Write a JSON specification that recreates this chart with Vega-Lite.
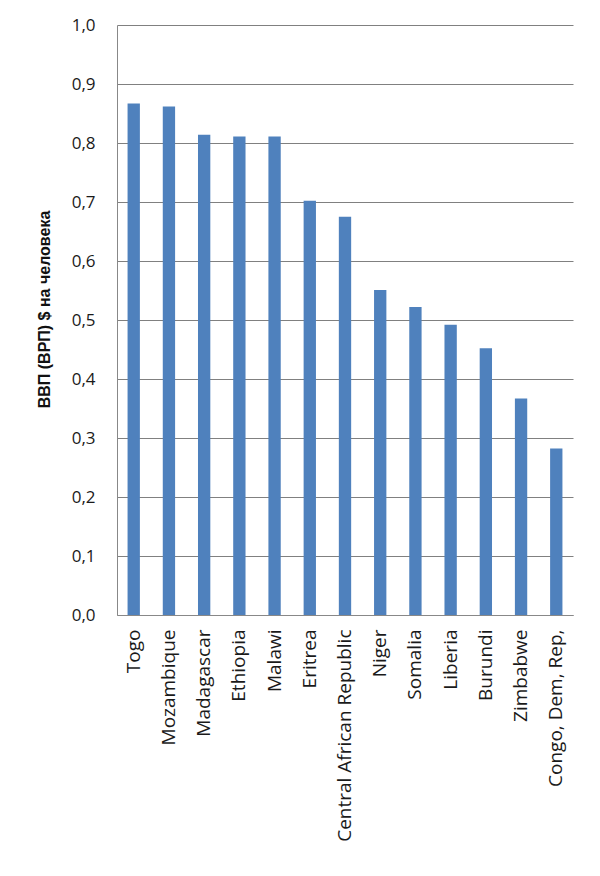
{
  "$schema": "https://vega.github.io/schema/vega-lite/v6.json",
  "autosize": "none",
  "width": 456,
  "height": 590,
  "padding": {"left": 117, "top": 25, "right": 27, "bottom": 261},
  "background": "#ffffff",
  "config": {"view": {"stroke": null}, "font": "Lato"},
  "data": {"values": [
    {"country": "Togo", "value": 0.867},
    {"country": "Mozambique", "value": 0.862},
    {"country": "Madagascar", "value": 0.814},
    {"country": "Ethiopia", "value": 0.811},
    {"country": "Malawi", "value": 0.811},
    {"country": "Eritrea", "value": 0.702},
    {"country": "Central African Republic", "value": 0.675},
    {"country": "Niger", "value": 0.551},
    {"country": "Somalia", "value": 0.522},
    {"country": "Liberia", "value": 0.492},
    {"country": "Burundi", "value": 0.452},
    {"country": "Zimbabwe", "value": 0.367},
    {"country": "Congo, Dem, Rep,", "value": 0.282}
  ]},
  "mark": {"type": "bar", "color": "#4F81BD"},
  "encoding": {
    "x": {
      "field": "country", "type": "nominal", "sort": null,
      "scale": {"paddingInner": 0.65, "paddingOuter": 0.3},
      "axis": {
        "title": null, "labelAngle": -90, "labelAlign": "right", "labelBaseline": "middle",
        "labelPadding": 14, "ticks": false, "domainColor": "#888888", "labelLimit": 400,
        "labelFontSize": 19, "labelColor": "#1a1a1a", "labelFont": "Open Sans"
      }
    },
    "y": {
      "field": "value", "type": "quantitative",
      "scale": {"domain": [0, 1], "nice": false},
      "axis": {
        "title": "ВВП (ВРП) $ на  человека", "titleFontSize": 16, "titleFontWeight": "bold",
        "titleColor": "#111111", "titlePadding": 19, "titleFont": "Liberation Sans", "titleY": 284,
        "values": [0, 0.1, 0.2, 0.3, 0.4, 0.5, 0.6, 0.7, 0.8, 0.9, 1.0],
        "labelExpr": "replace(format(datum.value, '.1f'), '.', ',')",
        "labelFontSize": 17, "labelColor": "#1a1a1a", "labelPadding": 22, "labelFont": "Open Sans",
        "ticks": false, "domainColor": "#888888",
        "grid": true, "gridColor": "#808080", "gridWidth": 1
      }
    }
  }
}
